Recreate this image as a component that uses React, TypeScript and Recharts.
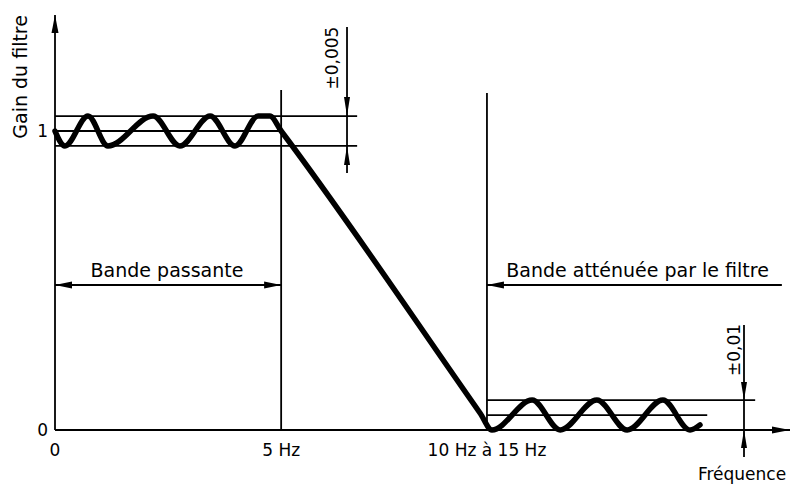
import React from 'react';
import { LineChart, Line, XAxis, YAxis, ReferenceLine, ReferenceDot } from 'recharts';

// ---- data (x in drawing units along the frequency axis, not to scale) ----
const X_MAX = 16.25;
const Y_MAX = 1.388;

const curveX = [0, 0.22, 0.73, 1.17, 2.17, 2.76, 3.43, 3.98, 4.49, 4.75, 5.0, 9.4, 9.66, 10.55, 11.17, 11.98, 12.65, 13.44, 14.04, 14.26];
const curveGain = [1.0, 0.95, 1.05, 0.95, 1.05, 0.95, 1.05, 0.95, 1.05, 1.05, 1.0, 0.056, 0, 0.1, 0, 0.1, 0, 0.1, 0, 0.017];

const xTicks = [0, 5, 9.55];
const xTickLabels = ['0', '5 Hz', '10 Hz à 15 Hz'];
const yTicks = [0, 1];
const yTickLabels = ['0', '1'];

const passUpper = 1.05;
const passNominal = 1.0;
const passLower = 0.95;
const passEnd = 5;
const passBandLinesEnd = 6.68;

const stopStart = 9.55;
const stopUpper = 0.1;
const stopMid = 0.05;
const stopUpperEnd = 15.48;
const stopMidEnd = 14.42;

const bandArrowY = 0.485;
const bandTextY = 0.535;

const dimPassX = 6.456;
const dimPassTop = 1.348;
const dimPassBottom = 0.8595;
const dimStopX = 15.233;
const dimStopTop = 0.351;
const dimStopBottom = -0.09;

const FONT = 'DejaVu Sans';

const data = curveX.map((x, i) => ({ x, gain: curveGain[i] }));

const K = '#000';
const THIN = 1.8;

type Dir = 'up' | 'down' | 'left' | 'right';
const arrowHead = (dir: Dir, len = 17, hw = 3.5) => (props: any) => {
  const { cx, cy } = props;
  let pts = '';
  if (dir === 'right') pts = `${cx},${cy} ${cx - len},${cy - hw} ${cx - len},${cy + hw}`;
  if (dir === 'left') pts = `${cx},${cy} ${cx + len},${cy - hw} ${cx + len},${cy + hw}`;
  if (dir === 'up') pts = `${cx},${cy} ${cx - hw},${cy + len} ${cx + hw},${cy + len}`;
  if (dir === 'down') pts = `${cx},${cy} ${cx - hw},${cy - len} ${cx + hw},${cy - len}`;
  return <polygon points={pts} fill={K} stroke="none" />;
};

const textShape = (txt: string, size: number, rotate = false, anchor: 'middle' | 'start' | 'end' = 'middle') => (props: any) => {
  const { cx, cy } = props;
  return (
    <text
      x={cx}
      y={cy}
      fontFamily={FONT}
      fontSize={size}
      fill={K}
      textAnchor={anchor}
      dominantBaseline="central"
      transform={rotate ? `rotate(-90 ${cx} ${cy})` : undefined}
    >
      {txt}
    </text>
  );
};

const seg = (x1: number, y1: number, x2: number, y2: number, key: string) => (
  <ReferenceLine
    key={key}
    segment={[{ x: x1, y: y1 }, { x: x2, y: y2 }]}
    stroke={K}
    strokeWidth={THIN}
    ifOverflow="visible"
  />
);

const dot = (x: number, y: number, shape: any, key: string) => (
  <ReferenceDot key={key} x={x} y={y} r={1} shape={shape} ifOverflow="visible" />
);

export default function App() {
  return (
    <div style={{ position: 'absolute', left: 0, top: 0, background: '#fff' }}>
      <LineChart width={794} height={484} data={data} margin={{ top: 15, right: 4, bottom: 24, left: 0 }}>
        <XAxis
          type="number"
          dataKey="x"
          domain={[0, X_MAX]}
          ticks={xTicks}
          tickFormatter={(v: number) => xTickLabels[xTicks.indexOf(v)] ?? ''}
          axisLine={false}
          tickLine={false}
          tickSize={6}
          tickMargin={8}
          height={30}
          interval={0}
          tick={{ fill: K, fontSize: 17, fontFamily: FONT }}
        />
        <YAxis
          type="number"
          domain={[0, Y_MAX]}
          ticks={yTicks}
          tickFormatter={(v: number) => yTickLabels[yTicks.indexOf(v)] ?? ''}
          axisLine={false}
          tickLine={false}
          tickSize={3}
          tickMargin={4}
          width={55}
          interval={0}
          tick={{ fill: K, fontSize: 17, fontFamily: FONT }}
        />
        {/* axes */}
        {seg(0, 0, X_MAX, 0, 'xaxis')}
        {seg(0, 0, 0, Y_MAX, 'yaxis')}
        {dot(X_MAX, 0, arrowHead('right', 18, 3.5), 'ax-x')}
        {dot(0, Y_MAX, arrowHead('up', 18, 3.5), 'ax-y')}
        {/* pass band tolerance */}
        {seg(0, passUpper, passBandLinesEnd, passUpper, 'pu')}
        {seg(0, passNominal, passEnd, passNominal, 'pn')}
        {seg(0, passLower, passBandLinesEnd, passLower, 'pl')}
        {seg(passEnd, 0, passEnd, 1.137, 'v5')}
        {/* stop band */}
        {seg(stopStart, 0, stopStart, 1.127, 'v10')}
        {seg(stopStart, stopUpper, stopUpperEnd, stopUpper, 'su')}
        {seg(stopStart, stopMid, stopMidEnd, stopMid, 'sm')}
        {/* band arrows */}
        {seg(0, bandArrowY, passEnd, bandArrowY, 'bp')}
        {dot(0, bandArrowY, arrowHead('left'), 'bp-l')}
        {dot(passEnd, bandArrowY, arrowHead('right'), 'bp-r')}
        {seg(stopStart, bandArrowY, 16.07, bandArrowY, 'ba')}
        {dot(stopStart, bandArrowY, arrowHead('left'), 'ba-l')}
        {/* dimensions */}
        {seg(dimPassX, dimPassTop, dimPassX, dimPassBottom, 'dp')}
        {dot(dimPassX, passUpper, arrowHead('down', 19, 3), 'dp-d')}
        {dot(dimPassX, passLower, arrowHead('up', 19, 3), 'dp-u')}
        {seg(dimStopX, dimStopTop, dimStopX, dimStopBottom, 'ds')}
        {dot(dimStopX, stopUpper, arrowHead('down', 18, 3), 'ds-d')}
        {dot(dimStopX, 0, arrowHead('up', 18, 3), 'ds-u')}
        {/* texts */}
        {dot(2.476, bandTextY, textShape('Bande passante', 19), 't-bp')}
        {dot(12.88, bandTextY, textShape('Bande atténuée par le filtre', 19), 't-ba')}
        {dot(6.124, 1.244, textShape('±0,005', 17, true), 't-d1')}
        {dot(15.01, 0.2676, textShape('±0,01', 17, true), 't-d2')}
        {dot(15.19, -0.148, textShape('Fréquence', 17), 't-f')}
        {dot(-0.774, 1.181, textShape('Gain du filtre', 19, true), 't-g')}
        <Line
          type="monotone"
          dataKey="gain"
          stroke={K}
          strokeWidth={5.5}
          strokeLinecap="round"
          strokeLinejoin="round"
          dot={false}
          activeDot={false}
          isAnimationActive={false}
        />
      </LineChart>
    </div>
  );
}
